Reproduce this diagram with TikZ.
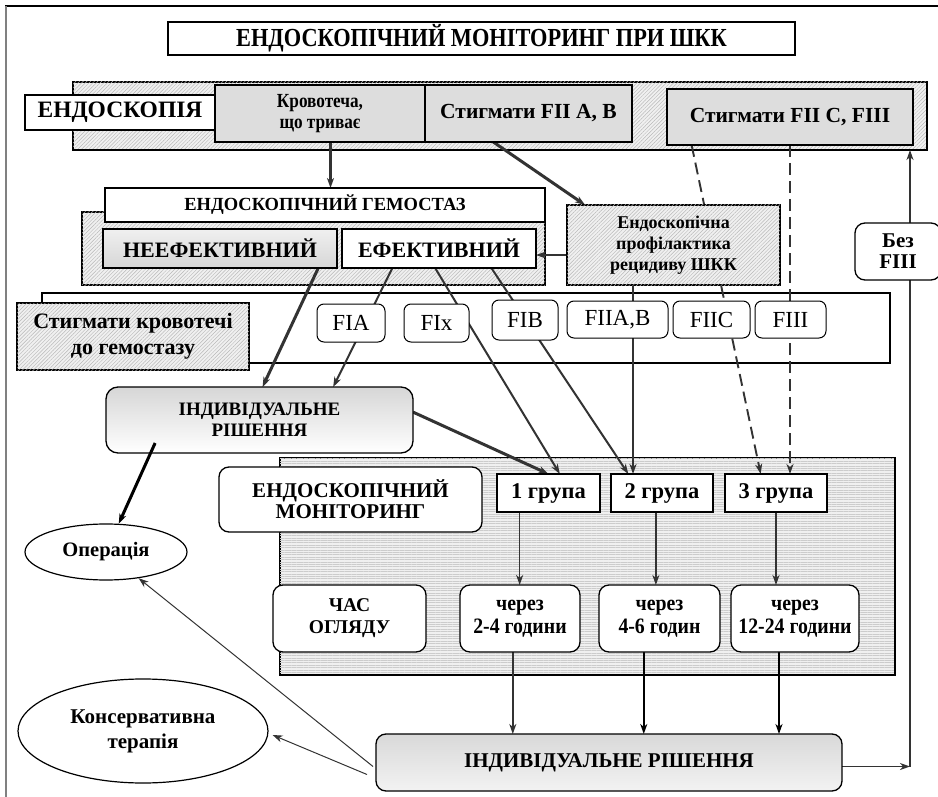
\documentclass[tikz,border=0pt]{standalone}
\usepackage{fontspec}
\setmainfont{Liberation Serif}
\newfontfamily\cfont[FakeStretch=0.86]{Liberation Serif}
\newfontfamily\nfont[FakeStretch=0.9]{Liberation Serif}
\usetikzlibrary{arrows.meta,patterns,patterns.meta,shapes.geometric,calc}
\definecolor{ln}{HTML}{333333}
\definecolor{boxgray}{HTML}{DDDDDD}
\definecolor{hatchbg}{HTML}{F0F0F0}
\definecolor{hatchln}{HTML}{B8B8B8}
\newcommand\fs[2]{\fontsize{#1}{#2}\selectfont}
\pgfdeclarelayer{bg}
\pgfdeclarelayer{lines}
\pgfsetlayers{bg,lines,main}
\begin{document}
\begin{tikzpicture}[x=1pt,y=-1pt,
  bb/.style args={#1/#2/#3/#4}{anchor=north west,at={(#1,#2)},minimum width={(#3-#1)*1pt},minimum height={(#4-#2)*1pt},inner sep=0pt,outer sep=0pt},
  box/.style={draw=black,line width=1.3pt,align=center,font=\bfseries},
  gbox/.style={box,fill=boxgray},
  wbox/.style={box,fill=white},
  hbox/.style={draw=black,line width=1.2pt,fill=hatchbg,postaction={pattern={Lines[angle=45,distance=2.6pt,line width=0.45pt]},pattern color=hatchln}},
  rbox/.style={wbox,rounded corners=10pt},
  sbox/.style={draw=black,line width=1pt,fill=white,rounded corners=7pt,align=center,font=\fs{23}{25}},
  con/.style={draw=ln,line width=1.3pt,-{Stealth[length=10pt,width=7pt,inset=3pt]}},
  mcon/.style={con,line width=2pt},
  tcon/.style={con,line width=3pt},
  dcon/.style={con,line width=1.9pt,dash pattern=on 12pt off 6pt},
  lnk/.style={draw=ln,line width=2pt}
]
\useasboundingbox (0,0) rectangle (938,797);
% frame
\draw[line width=1.2pt,black] (5,6) -- (938,6);
\draw[line width=2pt,gray] (6,6) -- (6,797);

\begin{pgfonlayer}{bg}
\node[hbox,bb=73/82/927/150] (band) {};
\draw[line width=2.4pt] (band.south west) -- (band.south east) -- (band.north east);
\node[hbox,bb=82/212/545/285] (gemG) {};
\node[draw=black,line width=1.2pt,fill=white,bb=42/293/890/363] (stigB) {};
\node[draw=black,line width=1.2pt,fill=hatchbg,postaction={pattern={Lines[angle=0,distance=2.4pt,line width=0.45pt]},pattern color=gray!40},bb=280/458/895/675] (monG) {};
\draw[line width=2.2pt] (monG.south west) -- (monG.south east) -- (monG.north east);
\end{pgfonlayer}

% top
\node[wbox,bb=168/22/795/55,font=\cfont\bfseries\fs{26}{28}] (title) {ЕНДОСКОПІЧНИЙ МОНІТОРИНГ ПРИ ШКК};
\node[wbox,bb=25/95/215/130,font=\bfseries\fs{23.5}{25}] (endo) {ЕНДОСКОПІЯ};
\node[gbox,bb=215/85/425/142,font=\cfont\bfseries\fs{20}{21}] (krov) {Кровотеча,\\що триває};
\node[gbox,bb=425/85/632/142,font=\bfseries\fs{21.5}{23}] (stA) {Стигмати FII A, B};
\node[gbox,bb=667/89/913/145,font=\bfseries\fs{21.5}{23}] (stC) {Стигмати FII C, FIII};

% haemostasis
\node[wbox,bb=105/188/545/222,font=\bfseries\fs{18.5}{20}] (gemh) {ЕНДОСКОПІЧНИЙ ГЕМОСТАЗ};
\node[box,top color=gray!12,bottom color=gray!32,bb=103/229/337/268,font=\bfseries\fs{22}{24}] (neef) {НЕЕФЕКТИВНИЙ};
\node[wbox,bb=342/229/536/268,font=\bfseries\fs{22}{24}] (ef) {ЕФЕКТИВНИЙ};
\node[hbox,align=center,bb=567/205/780/285,font=\bfseries\fs{18}{21}] (prof) {Ендоскопічна\\профілактика\\рецидиву ШКК};
\node[rbox,bb=855/223/941/280,font=\bfseries\fs{21}{21}] (bez) {Без\\FIII};

% stigmata row
\node[hbox,align=center,bb=17/303/249/370,font=\bfseries\fs{22}{26}] (stigL) {Стигмати кровотечі\\до гемостазу};
\node[sbox,bb=317/304/385/342] (fia) {FIA};
\node[sbox,bb=404/304/469/342] (fix) {FIx};
\node[sbox,bb=492/300/558/340] (fib) {FIB};
\node[sbox,bb=567/301/668/338] (fiiab) {FIIA,B};
\node[sbox,bb=673/301/750/338] (fiic) {FIIC};
\node[sbox,bb=755/301/826/338] (fiii) {FIII};

% individual decision (upper)
\node[box,rounded corners=12pt,top color=gray!32,bottom color=white,bb=106/387/413/453,font=\bfseries\fs{19}{21}] (ir1) {ІНДИВІДУАЛЬНЕ\\РІШЕННЯ};

% monitoring
\node[rbox,bb=219/467/482/532,font=\bfseries\fs{21}{21}] (monL) {ЕНДОСКОПІЧНИЙ\\МОНІТОРИНГ};
\node[wbox,bb=497/474/600/512,font=\bfseries\fs{22.5}{24}] (g1) {1 група};
\node[wbox,bb=611/474/713/512,font=\bfseries\fs{22.5}{24}] (g2) {2 група};
\node[wbox,bb=725/474/827/512,font=\bfseries\fs{22.5}{24}] (g3) {3 група};
\node[rbox,bb=273/585/426/652,font=\bfseries\fs{19.5}{22}] (chas) {ЧАС\\ОГЛЯДУ};
\node[rbox,bb=460/585/580/652,font=\nfont\bfseries\fs{22}{23}] (t1) {через\\2-4 години};
\node[rbox,bb=599/585/720/652,font=\nfont\bfseries\fs{22}{23}] (t2) {через\\4-6 годин};
\node[rbox,bb=731/585/859/652,font=\nfont\bfseries\fs{22}{23}] (t3) {через\\12-24 години};

% outcomes
\node[box,rounded corners=10pt,top color=gray!30,bottom color=gray!10,bb=376/734/842/791,font=\bfseries\fs{21}{23}] (ir2) {ІНДИВІДУАЛЬНЕ РІШЕННЯ};
\node[ellipse,draw=black,line width=1.2pt,fill=white,minimum width=162pt,minimum height=56pt,inner sep=0pt,font=\bfseries\fs{20.5}{22}] (oper) at (106,552) {Операція};
\node[ellipse,draw=black,line width=1.2pt,fill=white,minimum width=250pt,minimum height=104pt,inner sep=0pt,align=center,font=\bfseries\fs{21}{25}] (kons) at (143,731) {Консервативна\\терапія};

\begin{pgfonlayer}{lines}
% from endoscopy band
\draw[tcon] ($(krov.south west)!0.55!(krov.south east)$) coordinate (k1) -- (k1 |- gemh.north);
\draw[tcon] ($(stA.south west)!0.33!(stA.south east)$) -- ($(prof.north west)!0.085!(prof.north east)$);
\draw[dcon] ($(stC.south west)!0.10!(stC.south east)$) -- ($(g3.north west)!0.35!(g3.north east)$);
\draw[dcon] (stC.south) -- (stC.south |- g3.north);
% prophylaxis
\draw[con] ($(prof.north west)!0.625!(prof.south west)$) coordinate (p1) -- (p1 -| ef.east);
\draw[con,line width=1.8pt] ($(prof.south west)!0.31!(prof.south east)$) coordinate (p2) -- (p2 |- g2.north);
% from haemostasis
\draw[tcon] ($(neef.south west)!0.92!(neef.south east)$) -- ($(ir1.north west)!0.51!(ir1.north east)$);
\draw[mcon] ($(ef.south west)!0.26!(ef.south east)$) -- ($(ir1.north west)!0.74!(ir1.north east)$);
\draw[mcon] ($(ef.south west)!0.48!(ef.south east)$) -- ($(g1.north west)!0.61!(g1.north east)$);
\draw[mcon] ($(ef.south west)!0.77!(ef.south east)$) -- ($(g2.north west)!0.17!(g2.north east)$);
\draw[tcon] ($(ir1.north east)!0.38!(ir1.south east)$) -- (g1.north);
% monitoring
\draw[con] ($(g1.south west)!0.22!(g1.south east)$) coordinate (m1) -- (m1 |- t1.north);
\draw[con] ($(g2.south west)!0.44!(g2.south east)$) coordinate (m2) -- (m2 |- t2.north);
\draw[con] (g3.south) -- (g3.south |- t3.north);
\draw[con,line width=1.5pt] ($(t1.south west)!0.44!(t1.south east)$) coordinate (n1) -- (n1 |- ir2.north);
\draw[con,line width=2pt,draw=black] ($(t2.south west)!0.37!(t2.south east)$) coordinate (n2) -- (n2 |- ir2.north);
\draw[con,line width=2pt,draw=black] ($(t3.south west)!0.375!(t3.south east)$) coordinate (n3) -- (n3 |- ir2.north);
% exits
\draw[con] ($(ir2.east)+(0,4)$) -- ++(68,0) coordinate (rt);
\draw[con] (rt) -- (rt |- band.south);
\draw[con,line width=1pt] ($(ir2.west)+(-3,4)$) -- (oper);
\draw[con,line width=1pt] ($(ir2.west)+(-9,12)$) -- ($(kons.east)+(4,4)$);
\end{pgfonlayer}
\draw[tcon,draw=black] ($(ir1.south west)!0.16!(ir1.south east)+(0,-10)$) -- (oper);
\end{tikzpicture}
\end{document}
